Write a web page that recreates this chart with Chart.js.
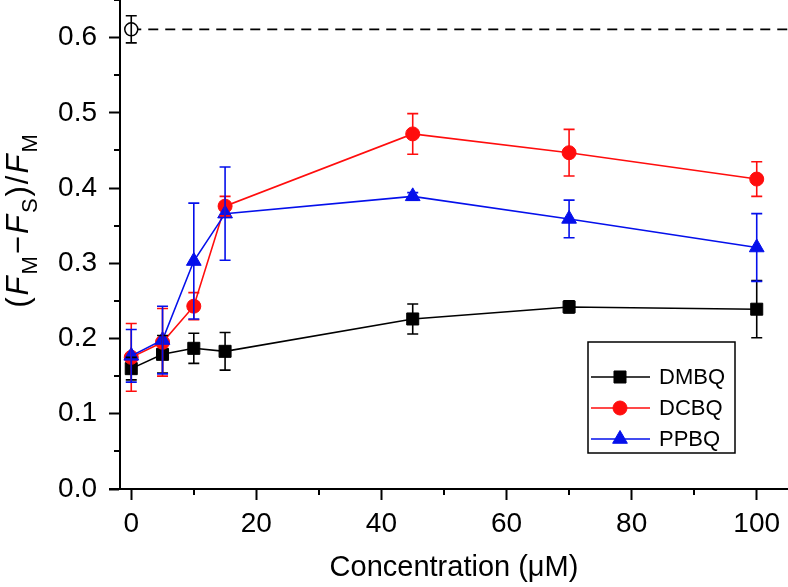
<!DOCTYPE html>
<html>
<head>
<meta charset="utf-8">
<script src="https://cdn.jsdelivr.net/npm/chart.js@4.4.0/dist/chart.umd.min.js"></script>
<style>
  html, body { margin: 0; padding: 0; background: #fff; }
  #wrap { width: 788px; height: 587px; position: relative; }
</style>
</head>
<body>
<div id="wrap"><canvas id="chart"></canvas></div>
<script>
/* data */
const CONC = [0, 5, 10, 15, 45, 70, 100];

const DMBQ     = [0.160, 0.179, 0.187, 0.183, 0.226, 0.242, 0.239];
const DMBQ_ERR = [0.015, 0.025, 0.020, 0.025, 0.020, 0.008, 0.038];

const DCBQ     = [0.175, 0.195, 0.243, 0.376, 0.472, 0.447, 0.412];
const DCBQ_ERR = [0.045, 0.045, 0.018, 0.013, 0.027, 0.031, 0.023];

const PPBQ     = [0.177, 0.198, 0.303, 0.366, 0.389, 0.359, 0.321];
const PPBQ_ERR = [0.035, 0.045, 0.077, 0.062, 0.005, 0.025, 0.045];

const CONTROL_X   = [0];
const CONTROL_Y   = [0.611];
const CONTROL_ERR = [0.018];
const CONTROL_LINE_X = [0, 105];

const FONT = "'Liberation Sans', Arial, Helvetica, sans-serif";

function pts(xs, ys) {
    return xs.map((x, i) => ({x: x, y: ys[i]}));
}

function isMajorY(v) { return Math.abs(v * 10 - Math.round(v * 10)) < 1e-6; }
function isMajorX(v) { return Math.abs(v / 20 - Math.round(v / 20)) < 1e-6; }

function drawMarker(ctx, style, x, y, r, fill, stroke) {
    ctx.beginPath();
    if (style === 'rect') {
        const s = Math.SQRT1_2 * r;
        ctx.rect(x - s, y - s, 2 * s, 2 * s);
    } else if (style === 'triangle') {
        let a = 0;
        for (let k = 0; k < 3; k++) {
            const px = x + Math.sin(a) * r, py = y - Math.cos(a) * r;
            k === 0 ? ctx.moveTo(px, py) : ctx.lineTo(px, py);
            a += 2 * Math.PI / 3;
        }
        ctx.closePath();
    } else {
        ctx.arc(x, y, r, 0, 2 * Math.PI);
    }
    ctx.fillStyle = fill;
    ctx.fill();
    ctx.strokeStyle = stroke;
    ctx.lineWidth = 1;
    ctx.stroke();
}

/* vertical error bars with caps */
const errorBars = {
    id: 'errorBars',
    afterDatasetsDraw(chart) {
        const ctx = chart.ctx, xs = chart.scales.x, ys = chart.scales.y;
        chart.data.datasets.forEach(ds => {
            if (!ds.errors) return;
            ctx.save();
            ctx.strokeStyle = ds.borderColor;
            ctx.lineWidth = 1.6;
            ds.data.forEach((p, j) => {
                const e = ds.errors[j];
                const px = xs.getPixelForValue(p.x);
                const top = ys.getPixelForValue(p.y + e);
                const bot = ys.getPixelForValue(p.y - e);
                ctx.beginPath();
                ctx.moveTo(px, top); ctx.lineTo(px, bot);
                ctx.moveTo(px - 5.5, top); ctx.lineTo(px + 5.5, top);
                ctx.moveTo(px - 5.5, bot); ctx.lineTo(px + 5.5, bot);
                ctx.stroke();
            });
            ctx.restore();
        });
    }
};

/* minor ticks, axis stub, y title with subscripts, boxed legend */
const decorations = {
    id: 'decorations',
    afterDraw(chart) {
        const ctx = chart.ctx, area = chart.chartArea;
        const xs = chart.scales.x, ys = chart.scales.y;
        ctx.save();
        ctx.strokeStyle = '#000';
        ctx.lineWidth = 2;

        // minor ticks
        ctx.beginPath();
        for (let v = 10; v <= 100; v += 20) {
            const px = Math.round(xs.getPixelForValue(v));
            ctx.moveTo(px, area.bottom); ctx.lineTo(px, area.bottom + 6);
        }
        for (let k = 1; k <= 13; k += 2) {
            const py = Math.round(ys.getPixelForValue(k * 0.05));
            ctx.moveTo(area.left, py); ctx.lineTo(area.left - 6, py);
        }
        // x axis runs a little past the y axis
        ctx.moveTo(area.left - 11, area.bottom); ctx.lineTo(area.left, area.bottom);
        ctx.stroke();

        // y axis title: (F_M - F_S)/F_M
        const main = 31, sub = 22, gap = 2;
        const parts = [
            {t: '(', s: main}, {t: 'F', s: main, i: true}, {t: 'M', s: sub, d: true},
            {t: '\u2212', s: main}, {t: 'F', s: main, i: true}, {t: 'S', s: sub, d: true},
            {t: ')', s: main}, {t: '/', s: main}, {t: 'F', s: main, i: true}, {t: 'M', s: sub, d: true}
        ];
        const fontOf = p => (p.i ? 'italic ' : '') + p.s + 'px ' + FONT;
        let total = -gap;
        parts.forEach(p => { ctx.font = fontOf(p); p.w = ctx.measureText(p.t).width; total += p.w + gap; });
        ctx.translate(28, 221);
        ctx.rotate(-Math.PI / 2);
        ctx.fillStyle = '#000';
        ctx.textBaseline = 'alphabetic';
        let cx = -total / 2;
        parts.forEach(p => {
            ctx.font = fontOf(p);
            ctx.fillText(p.t, cx, p.d ? 9 : 0);
            cx += p.w + gap;
        });
        ctx.restore();

        // legend box
        ctx.save();
        const bx = area.right - 200, by = area.bottom - 147, bw = 147, bh = 111;
        ctx.strokeStyle = '#000';
        ctx.lineWidth = 1.5;
        ctx.strokeRect(bx, by, bw, bh);
        const items = chart.data.datasets.filter(d => d.legendRow !== undefined)
            .sort((a, b) => a.legendRow - b.legendRow);
        items.forEach((d, k) => {
            const ry = by + 35 + k * 31;
            ctx.strokeStyle = d.borderColor;
            ctx.lineWidth = 1.6;
            ctx.beginPath();
            ctx.moveTo(bx + 3, ry); ctx.lineTo(bx + 62, ry);
            ctx.stroke();
            drawMarker(ctx, d.pointStyle, bx + 32, ry, d.pointRadius, d.pointBackgroundColor, d.borderColor);
            ctx.fillStyle = '#000';
            ctx.font = '22px ' + FONT;
            ctx.textBaseline = 'middle';
            ctx.fillText(d.label, bx + 71, ry + 1);
        });
        ctx.restore();
    }
};

Chart.defaults.font.family = FONT;
Chart.defaults.color = '#000';

const ctx = document.getElementById('chart');
new Chart(ctx, {
    type: 'scatter',
    data: {
        datasets: [
            {
                label: 'DMBQ', legendRow: 0, order: 3,
                data: pts(CONC, DMBQ), errors: DMBQ_ERR,
                showLine: true, borderColor: '#000', borderWidth: 1.6,
                pointStyle: 'rect', pointRadius: 8.5,
                pointBackgroundColor: '#000', pointBorderColor: '#000', pointBorderWidth: 1
            },
            {
                label: 'DCBQ', legendRow: 1, order: 2,
                data: pts(CONC, DCBQ), errors: DCBQ_ERR,
                showLine: true, borderColor: '#ff0d0d', borderWidth: 1.6,
                pointStyle: 'circle', pointRadius: 7,
                pointBackgroundColor: '#ff0d0d', pointBorderColor: '#ff0d0d', pointBorderWidth: 1
            },
            {
                label: 'PPBQ', legendRow: 2, order: 1,
                data: pts(CONC, PPBQ), errors: PPBQ_ERR,
                showLine: true, borderColor: '#0510eb', borderWidth: 1.6,
                pointStyle: 'triangle', pointRadius: 8.5,
                pointBackgroundColor: '#0510eb', pointBorderColor: '#0510eb', pointBorderWidth: 1
            },
            {
                label: 'control', order: 4,
                data: pts(CONTROL_X, CONTROL_Y), errors: CONTROL_ERR,
                showLine: false, borderColor: '#000',
                pointStyle: 'circle', pointRadius: 6.5,
                pointBackgroundColor: '#fff', pointBorderColor: '#000', pointBorderWidth: 1.5
            },
            {
                label: 'control level', order: 5,
                data: pts(CONTROL_LINE_X, CONTROL_LINE_X.map(() => CONTROL_Y[0])),
                showLine: true, borderColor: '#000', borderWidth: 1.6, borderDash: [10, 7],
                pointRadius: 0
            }
        ]
    },
    options: {
        responsive: true,
        maintainAspectRatio: false,
        animation: false,
        events: [],
        layout: { padding: 0, autoPadding: false },
        plugins: {
            legend: { display: false },
            tooltip: { enabled: false }
        },
        scales: {
            x: {
                type: 'linear',
                min: -1.8, max: 105,
                afterFit: scale => {
                    scale.height = 98;
                    scale.paddingLeft = 0; scale.paddingRight = 0;
                },
                grid: {
                    drawOnChartArea: false, tickLength: 11, tickWidth: 2,
                    tickColor: c => (c.tick && isMajorX(c.tick.value)) ? '#000' : 'rgba(0,0,0,0)'
                },
                border: { color: '#000', width: 2 },
                ticks: {
                    stepSize: 10, includeBounds: false, maxRotation: 0, autoSkip: false,
                    padding: 7, font: { size: 28 },
                    callback: v => isMajorX(v) ? String(Math.round(v)) : null
                },
                title: {
                    display: true, text: 'Concentration (\u03bcM)',
                    font: { size: 29 }, padding: { top: 0, bottom: 2 }
                }
            },
            y: {
                min: 0, max: 0.65,
                afterFit: scale => {
                    scale.width = 120;
                    scale.paddingTop = 0; scale.paddingBottom = 0;
                },
                grid: {
                    drawOnChartArea: false, tickLength: 11, tickWidth: 2,
                    tickColor: c => (c.tick && isMajorY(c.tick.value)) ? '#000' : 'rgba(0,0,0,0)'
                },
                border: { color: '#000', width: 2 },
                ticks: {
                    stepSize: 0.05, includeBounds: false, autoSkip: false,
                    padding: 12, font: { size: 28 },
                    callback: v => isMajorY(v) ? v.toFixed(1) : null
                }
            }
        }
    },
    plugins: [errorBars, decorations]
});
</script>
</body>
</html>
